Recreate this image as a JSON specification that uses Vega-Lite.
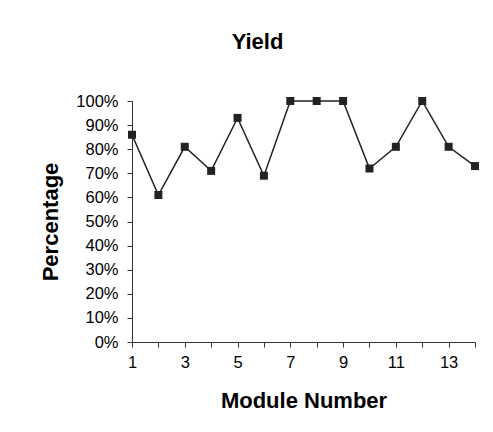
{
  "$schema": "https://vega.github.io/schema/vega-lite/v6.json",
  "autosize": {"type": "none"},
  "padding": {"left": 132, "top": 101, "right": 18, "bottom": 90},
  "width": 343,
  "height": 241,
  "background": "white",
  "title": {"text": "Yield", "font": "Liberation Sans", "fontSize": 22, "fontWeight": "bold", "color": "black", "anchor": "middle", "dx": -46, "offset": 39},
  "config": {"view": {"stroke": null}},
  "data": {"values": [
    {"module": 1, "yield": 0.86},
    {"module": 2, "yield": 0.61},
    {"module": 3, "yield": 0.81},
    {"module": 4, "yield": 0.71},
    {"module": 5, "yield": 0.93},
    {"module": 6, "yield": 0.69},
    {"module": 7, "yield": 1.0},
    {"module": 8, "yield": 1.0},
    {"module": 9, "yield": 1.0},
    {"module": 10, "yield": 0.72},
    {"module": 11, "yield": 0.81},
    {"module": 12, "yield": 1.0},
    {"module": 13, "yield": 0.81},
    {"module": 14, "yield": 0.73}
  ]},
  "encoding": {
    "x": {"field": "module", "type": "quantitative",
      "scale": {"domain": [1, 14], "nice": false, "zero": false},
      "axis": {"title": "Module Number", "values": [1,2,3,4,5,6,7,8,9,10,11,12,13,14],
        "labelExpr": "datum.value % 2 == 1 ? datum.label : ''",
        "grid": false, "domainColor": "#333", "tickColor": "#333", "tickSize": 5,
        "labelFont": "Liberation Sans", "labelFontSize": 16.5, "labelColor": "black", "labelPadding": 7,
        "titleFont": "Liberation Sans", "titleFontSize": 22, "titleFontWeight": "bold", "titleColor": "black", "titlePadding": 20, "labelFlush": false}},
    "y": {"field": "yield", "type": "quantitative",
      "scale": {"domain": [0, 1], "nice": false},
      "axis": {"title": "Percentage", "format": ".0%", "values": [0,0.1,0.2,0.3,0.4,0.5,0.6,0.7,0.8,0.9,1.0],
        "grid": false, "domainColor": "#333", "tickColor": "#333", "tickSize": 5,
        "labelFont": "Liberation Sans", "labelFontSize": 16.5, "labelColor": "black", "labelPadding": 9,
        "titleFont": "Liberation Sans", "titleFontSize": 22, "titleFontWeight": "bold", "titleColor": "black", "titlePadding": 13}}
  },
  "layer": [
    {"mark": {"type": "line", "color": "#222", "strokeWidth": 1.5}},
    {"mark": {"type": "point", "shape": "square", "filled": true, "size": 64, "color": "#222", "opacity": 1}}
  ]
}
